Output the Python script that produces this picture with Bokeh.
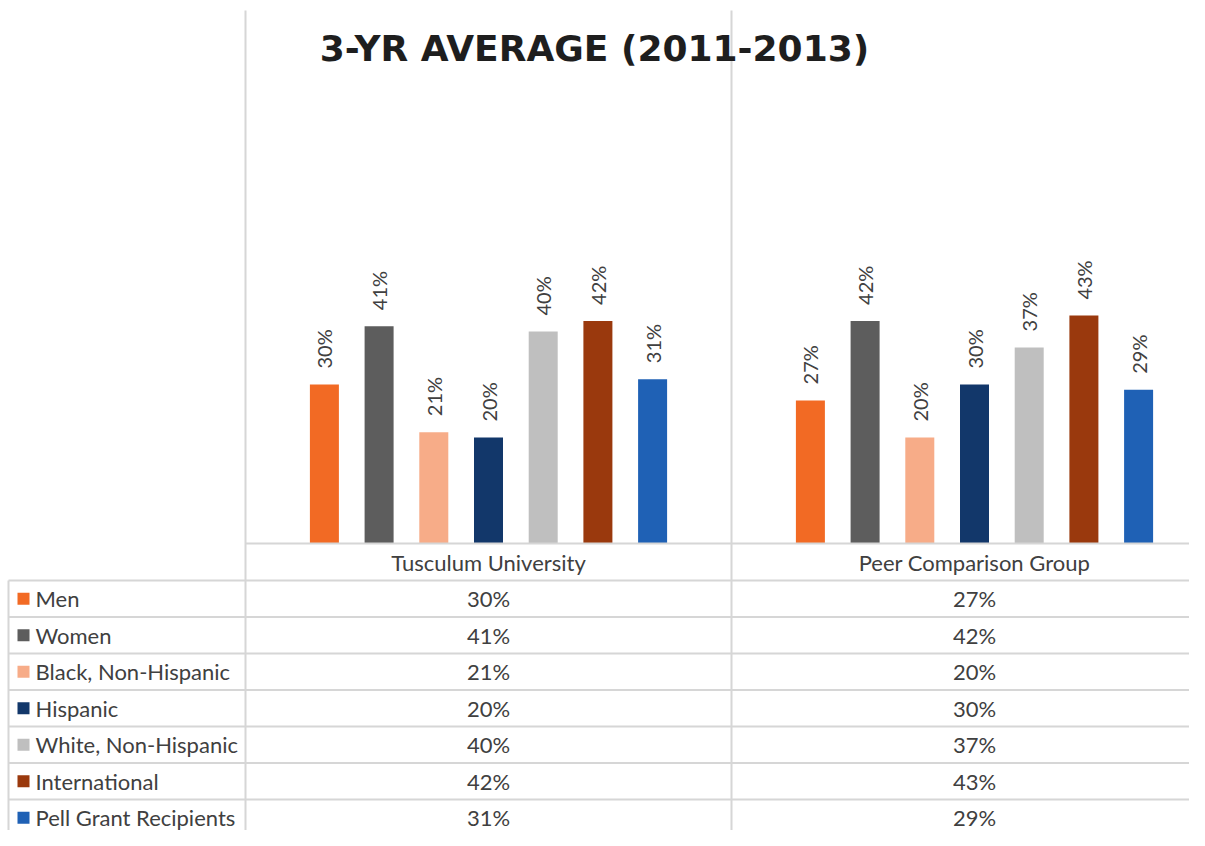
from bokeh.plotting import figure
from bokeh.models import Range1d, Label, ColumnDataSource
from bokeh.embed import file_html
from bokeh.resources import INLINE
from bokeh.core.properties import value
import math

# ---- data ----
groups = ["Tusculum University", "Peer Comparison Group"]
series = ["Men", "Women", "Black, Non-Hispanic", "Hispanic",
          "White, Non-Hispanic", "International", "Pell Grant Recipients"]
tusculum = [30, 41, 21, 20, 40, 42, 31]
peer = [27, 42, 20, 30, 37, 43, 29]
colors = ["#F26A24", "#5D5D5D", "#F7AC88", "#12376A", "#BFBFBF", "#9A390D", "#1F61B5"]
title_text = "3-YR AVERAGE (2011-2013)"

# ---- layout ----
W, H = 1189, 830
GROUP_PX = 486.0        # pixels per group
X0_PX = 245.0           # pixel position of group boundary 0
Y0_PX = 543.0           # pixel (from top) of value 0
PX_PER_UNIT = 5.3

def px2x(px):
    return (px - X0_PX) / GROUP_PX

def py2y(py):
    return (Y0_PX - py) / PX_PER_UNIT

p = figure(width=W, height=H, output_backend="svg", toolbar_location=None,
           x_range=Range1d(px2x(0), px2x(W)), y_range=Range1d(py2y(H), py2y(0)),
           x_axis_type=None, y_axis_type=None, min_border=0,
           outline_line_color=None, background_fill_color="white",
           border_fill_color="white")
p.grid.visible = False

LINE_C = "#D6D6D6"
TXT_C = "#404040"
FONT = "Lato"
TBL_SIZE = "22px"

# ---- bars ----
bar_w = 29 / GROUP_PX
step = 54.7 / GROUP_PX
xs, tops, cols, labs = [], [], [], []
for gi, vals in enumerate([tusculum, peer]):
    for si, v in enumerate(vals):
        xs.append(gi + 0.5 + (si - 3) * step)
        tops.append(v)
        cols.append(colors[si])
        labs.append(f"{v}%")
src = ColumnDataSource(dict(x=xs, top=tops, color=cols, lab=labs))
p.vbar(x="x", top="top", bottom=0, width=bar_w, fill_color="color",
       line_color=None, source=src)
p.text(x="x", y="top", text="lab", source=src, angle=math.pi / 2,
       text_align="left", text_baseline="middle", y_offset=-16,
       text_font=value(FONT), text_font_size="20px", text_color=TXT_C)

# ---- table grid ----
header_top = Y0_PX
header_bot = 580.0
row_h = 36.5
row_tops = [header_bot + i * row_h for i in range(len(series) + 1)]

# axis / header top line
p.segment(x0=[px2x(X0_PX)], x1=[px2x(W)], y0=[py2y(header_top)], y1=[py2y(header_top)],
          line_color=LINE_C, line_width=2)
# row lines
p.segment(x0=[px2x(8)] * len(row_tops), x1=[px2x(W)] * len(row_tops),
          y0=[py2y(r) for r in row_tops], y1=[py2y(r) for r in row_tops],
          line_color=LINE_C, line_width=2)
# vertical lines
p.segment(x0=[0, 1], x1=[0, 1], y0=[py2y(10)] * 2, y1=[py2y(H)] * 2,
          line_color=LINE_C, line_width=2)
p.segment(x0=[px2x(8)], x1=[px2x(8)], y0=[py2y(header_bot)], y1=[py2y(H)],
          line_color=LINE_C, line_width=2)

# category labels
p.text(x=[gi + 0.5 for gi in range(len(groups))], y=[py2y((header_top + header_bot) / 2)] * len(groups),
       text=groups, text_align="center", text_baseline="middle",
       text_font=value(FONT), text_font_size=TBL_SIZE, text_color=TXT_C)

# row labels, swatches and values
row_c = [py2y(header_bot + (i + 0.5) * row_h) for i in range(len(series))]
p.scatter(x=[px2x(23)] * len(series), y=row_c, marker="square", size=12,
          fill_color=colors, line_color=None)
p.text(x=[px2x(35)] * len(series), y=row_c, text=series, text_align="left",
       text_baseline="middle", text_font=value(FONT), text_font_size=TBL_SIZE,
       text_color=TXT_C)
for gi, vals in enumerate([tusculum, peer]):
    p.text(x=[gi + 0.5] * len(vals), y=row_c, text=[f"{v}%" for v in vals],
           text_align="center", text_baseline="middle", text_font=value(FONT),
           text_font_size=TBL_SIZE, text_color=TXT_C)

# ---- title ----
p.add_layout(Label(x=594, y=H - 48, x_units="screen", y_units="screen",
                   text=title_text, text_align="center", text_baseline="alphabetic",
                   text_font="DejaVu Sans", text_font_style="bold",
                   text_font_size="36px", text_color="#1E1E1E"))

open("out.html", "w").write(file_html(p, INLINE))
